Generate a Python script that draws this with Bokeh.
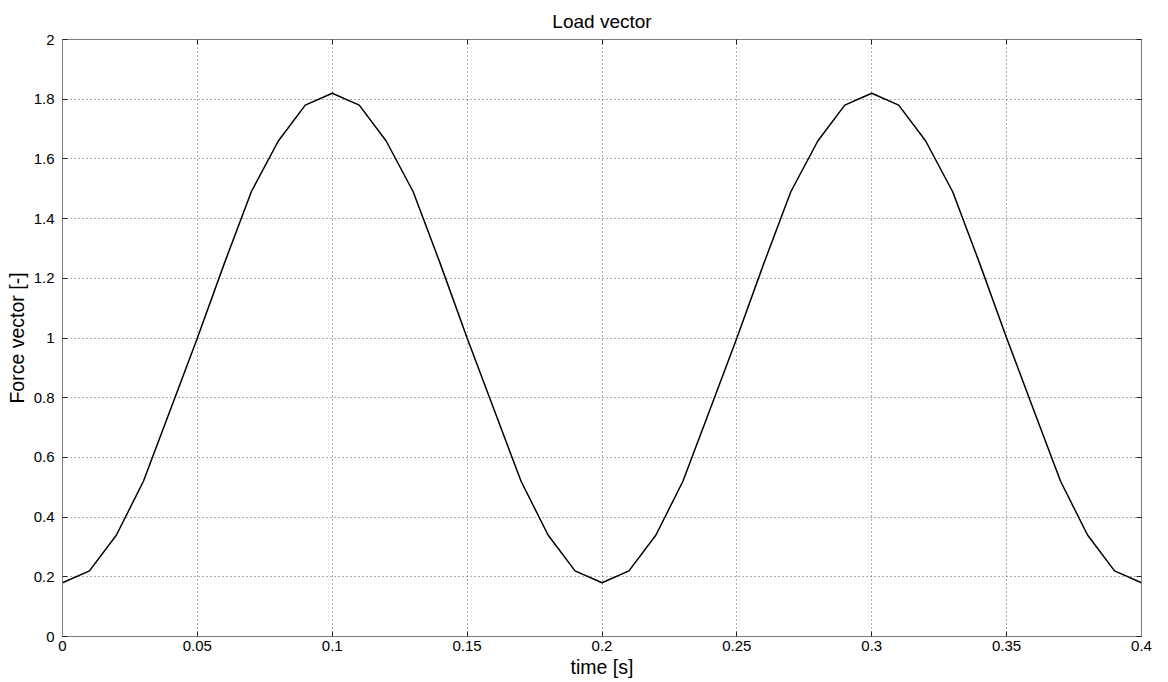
from bokeh.plotting import figure
from bokeh.models import LinearAxis, FixedTicker, CustomJSTickFormatter, Range1d
from bokeh.embed import file_html
from bokeh.resources import INLINE

# Data (time step 0.01 s)
time_s = [0.00, 0.01, 0.02, 0.03, 0.04, 0.05, 0.06, 0.07, 0.08, 0.09, 0.10,
          0.11, 0.12, 0.13, 0.14, 0.15, 0.16, 0.17, 0.18, 0.19, 0.20,
          0.21, 0.22, 0.23, 0.24, 0.25, 0.26, 0.27, 0.28, 0.29, 0.30,
          0.31, 0.32, 0.33, 0.34, 0.35, 0.36, 0.37, 0.38, 0.39, 0.40]
force = [0.18, 0.22, 0.34, 0.52, 0.76, 1.00, 1.25, 1.49, 1.66, 1.78, 1.82,
         1.78, 1.66, 1.49, 1.25, 1.00, 0.76, 0.52, 0.34, 0.22, 0.18,
         0.22, 0.34, 0.52, 0.76, 1.00, 1.25, 1.49, 1.66, 1.78, 1.82,
         1.78, 1.66, 1.49, 1.25, 1.00, 0.76, 0.52, 0.34, 0.22, 0.18]

x_ticks = [0, 0.05, 0.1, 0.15, 0.2, 0.25, 0.3, 0.35, 0.4]
y_ticks = [0, 0.2, 0.4, 0.6, 0.8, 1, 1.2, 1.4, 1.6, 1.8, 2]

FONT = "Liberation Sans"

p = figure(width=1168, height=682, output_backend="svg", toolbar_location=None,
           x_range=Range1d(0, 0.4), y_range=Range1d(0, 2),
           title="Load vector", x_axis_label="time [s]", y_axis_label="Force vector [-]",
           min_border_left=62, min_border_right=27, min_border_top=39, min_border_bottom=46)
p.frame_width = 1079
p.frame_height = 597

p.title.align = "center"
p.title.text_font = FONT
p.title.text_font_size = "19px"
p.title.text_font_style = "normal"
p.title.text_color = "black"
p.title.standoff = 15

fmt = CustomJSTickFormatter(code="return tick.toString();")
blank = CustomJSTickFormatter(code="return '';")

def style_axis(ax, ticks, labels=True):
    ax.ticker = FixedTicker(ticks=ticks)
    ax.axis_line_color = "#7a7a7a"
    ax.axis_line_width = 1
    ax.major_tick_in = 5
    ax.major_tick_out = 0
    ax.minor_tick_line_color = None
    ax.major_tick_line_color = "#222222"
    ax.major_label_text_font = FONT
    ax.major_label_text_color = "black"
    ax.major_label_text_font_size = "15px"
    ax.axis_label_text_font = FONT
    ax.axis_label_text_font_style = "normal"
    ax.axis_label_text_font_size = "19.5px"
    ax.axis_label_text_color = "black"
    if labels:
        ax.formatter = fmt
        ax.major_label_standoff = 5
    else:
        ax.formatter = blank
        ax.major_label_standoff = 0

style_axis(p.xaxis[0], x_ticks)
style_axis(p.yaxis[0], y_ticks)
p.xaxis[0].major_label_standoff = 4
p.xaxis[0].axis_label_standoff = 2
p.yaxis[0].major_label_standoff = 8
p.yaxis[0].axis_label_standoff = 3

top_ax = LinearAxis()
right_ax = LinearAxis()
style_axis(top_ax, x_ticks, labels=False)
style_axis(right_ax, y_ticks, labels=False)
p.add_layout(top_ax, "above")
p.add_layout(right_ax, "right")

for g in (p.xgrid[0], p.ygrid[0]):
    g.grid_line_color = "#333333"
    g.grid_line_alpha = 0.8
    g.grid_line_dash = "1 3"
    g.grid_line_width = 1
p.xgrid[0].ticker = FixedTicker(ticks=x_ticks)
p.ygrid[0].ticker = FixedTicker(ticks=y_ticks)

p.outline_line_color = None
p.background_fill_color = "white"
p.border_fill_color = "white"

p.line(time_s, force, line_color="black", line_width=1.5)

open("out.html", "w").write(file_html(p, INLINE))
